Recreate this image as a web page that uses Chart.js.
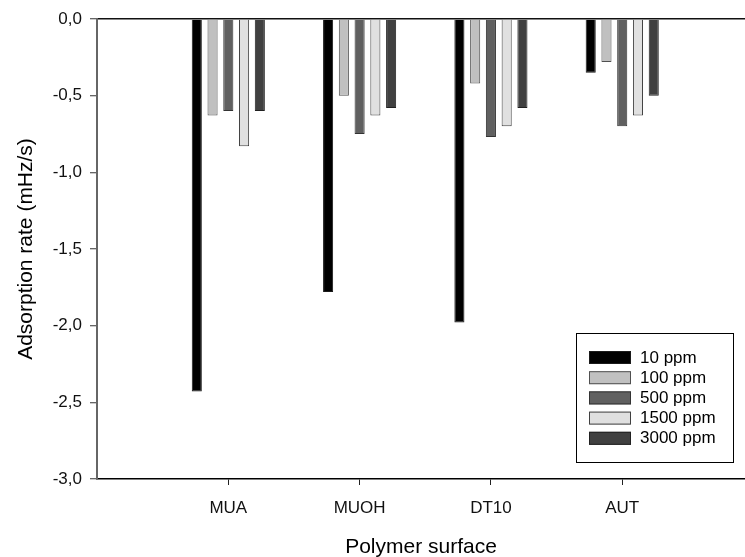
<!DOCTYPE html>
<html>
<head>
<meta charset="utf-8">
<title>Adsorption rate</title>
<script src="https://cdn.jsdelivr.net/npm/chart.js@4.4.0/dist/chart.umd.min.js"></script>
<style>
  html, body { margin: 0; padding: 0; background: #fff; }
  #wrap { width: 745px; height: 557px; position: relative; }
</style>
</head>
<body>
<div id="wrap"><canvas id="chart"></canvas></div>
<script>
// surfaces on the x axis
const surfaces = ["MUA", "MUOH", "DT10", "AUT"];

// adsorption rate (mHz/s) for each concentration
const ppm10   = [-2.43, -1.78, -1.98, -0.35];
const ppm100  = [-0.63, -0.50, -0.42, -0.28];
const ppm500  = [-0.60, -0.75, -0.77, -0.70];
const ppm1500 = [-0.83, -0.63, -0.70, -0.63];
const ppm3000 = [-0.60, -0.58, -0.58, -0.50];

const seriesNames = ["10 ppm", "100 ppm", "500 ppm", "1500 ppm", "3000 ppm"];
const yTicks = [0, -0.5, -1.0, -1.5, -2.0, -2.5, -3.0];

const FONT = "'Liberation Sans', Arial, sans-serif";

function toPoints(values) {
    return values.map((v, i) => ({ x: i + 1, y: v }));
}

const fills   = ["#000000", "#c0c0c0", "#606060", "#e0e0e0", "#404040"];
const borders = ["#1a1a1a", "#505050", "#333333", "#404040", "#202020"];
const allSeries = [ppm10, ppm100, ppm500, ppm1500, ppm3000];

const datasets = allSeries.map((vals, k) => ({
    label: seriesNames[k],
    data: toPoints(vals),
    backgroundColor: fills[k],
    borderColor: borders[k],
    borderWidth: 1,
    categoryPercentage: 0.6,
    barPercentage: 0.64
}));

// legend box drawn inside the plot, bottom right
const boxLegend = {
    id: "boxLegend",
    afterDraw(chart) {
        const ctx = chart.ctx;
        const x0 = 576, y0 = 333, w = 157, h = 129;
        ctx.save();
        ctx.strokeStyle = "#000";
        ctx.lineWidth = 1;
        ctx.fillStyle = "#fff";
        ctx.fillRect(x0, y0, w, h);
        ctx.strokeRect(x0 + 0.5, y0 + 0.5, w, h);
        ctx.font = "17px " + FONT;
        ctx.textBaseline = "middle";
        chart.data.datasets.forEach((ds, i) => {
            const cy = 357 + i * 20.2;
            ctx.fillStyle = ds.backgroundColor;
            ctx.fillRect(589, cy - 6, 42, 13);
            ctx.strokeStyle = ds.borderColor;
            ctx.strokeRect(589.5, cy - 5.5, 41, 12);
            ctx.fillStyle = "#000";
            ctx.fillText(ds.label, 640, cy + 1);
        });
        ctx.restore();
    }
};

new Chart(document.getElementById("chart"), {
    type: "bar",
    data: { datasets: datasets },
    options: {
        responsive: true,
        maintainAspectRatio: false,
        animation: false,
        devicePixelRatio: 1,
        layout: { padding: { top: 19, right: 0, left: 0, bottom: 0 } },
        plugins: {
            legend: { display: false },
            tooltip: { enabled: false }
        },
        scales: {
            x: {
                type: "linear",
                offset: false,
                min: 0,
                max: 4.935,
                afterBuildTicks(scale) {
                    scale.ticks = surfaces.map((s, i) => ({ value: i + 1 }));
                },
                afterFit(scale) { scale.height = 78; },
                border: { display: true, color: "#000", width: 1.5 },
                grid: {
                    offset: false,
                    drawOnChartArea: false,
                    tickLength: 6,
                    tickColor: "#222",
                    color: "#222"
                },
                ticks: {
                    autoSkip: false,
                    maxRotation: 0,
                    padding: 13,
                    color: "#111",
                    font: { family: FONT, size: 17 },
                    callback: (v) => surfaces[v - 1] || ""
                },
                title: {
                    display: true,
                    text: "Polymer surface",
                    color: "#000",
                    font: { family: FONT, size: 21 },
                    padding: { top: 0, bottom: -3 }
                }
            },
            y: {
                min: -3,
                max: 0,
                afterBuildTicks(scale) {
                    scale.ticks = yTicks.map(v => ({ value: v }));
                },
                afterFit(scale) { scale.width = 97; },
                border: { display: true, color: "#666", width: 2 },
                grid: {
                    color: (c) => (c.tick && c.tick.value === 0 ? "#111" : "rgba(0,0,0,0)"),
                    lineWidth: 1.5,
                    tickLength: 7,
                    tickColor: "#333",
                    tickWidth: 1
                },
                ticks: {
                    padding: 8,
                    color: "#111",
                    font: { family: FONT, size: 17 },
                    callback: (v) => v.toFixed(1).replace(".", ",")
                },
                title: {
                    display: true,
                    text: "Adsorption rate (mHz/s)",
                    color: "#000",
                    font: { family: FONT, size: 21 },
                    padding: { top: 14, bottom: 0 }
                }
            }
        }
    },
    plugins: [boxLegend]
});
</script>
</body>
</html>
